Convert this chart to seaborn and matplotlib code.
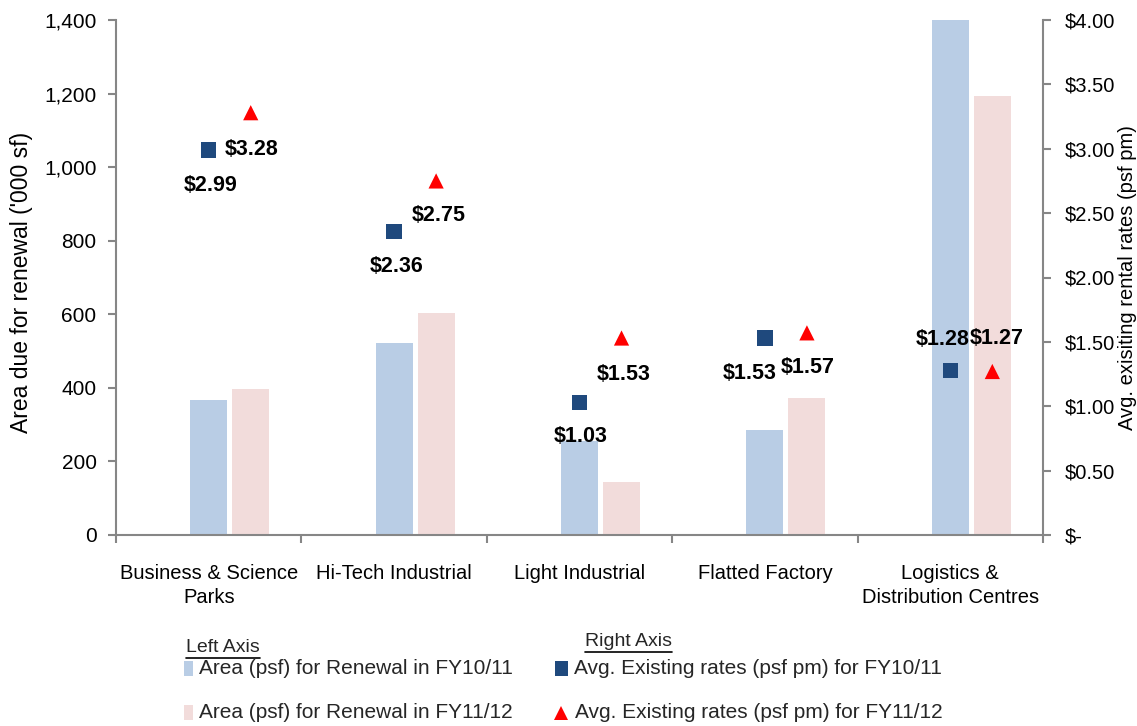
import numpy as np
import pandas as pd
import matplotlib
matplotlib.use('Agg')
import matplotlib.pyplot as plt
import seaborn as sns
from matplotlib.lines import Line2D
from matplotlib.patches import Rectangle
from matplotlib.ticker import FuncFormatter

# data
categories = ['Business & Science\nParks', 'Hi-Tech Industrial', 'Light Industrial',
              'Flatted Factory', 'Logistics &\nDistribution Centres']
area_fy1011 = [367, 522, 255, 285, 1400]
area_fy1112 = [397, 603, 145, 372, 1193]
rate_fy1011 = [2.99, 2.36, 1.03, 1.53, 1.28]
rate_fy1112 = [3.28, 2.75, 1.53, 1.57, 1.27]

bar_labels = ['Area (psf) for Renewal in FY10/11', 'Area (psf) for Renewal in FY11/12']
rate_labels = ['Avg. Existing rates (psf pm) for FY10/11', 'Avg. Existing rates (psf pm) for FY11/12']

# label offsets (pixels) of the $ labels relative to their markers
offsets_1011 = [(2, -35), (2, -35), (1, -34), (-15, -35), (-8, 31)]
offsets_1112 = [(1, -37), (3, -35), (2, -36), (1, -35), (4, 33)]

BLUE_BAR = '#B9CDE5'
PINK_BAR = '#F2DCDB'
NAVY = '#1F497D'
RED = '#FF0000'
GREY = '#868686'
W, H = 1137, 726

sns.set_theme(style='ticks')
plt.rcParams['font.family'] = ['Liberation Sans', 'DejaVu Sans']

area = pd.DataFrame({
    'category': categories * 2,
    'series': ['FY10/11'] * 5 + ['FY11/12'] * 5,
    'area': area_fy1011 + area_fy1112,
})

fig = plt.figure(figsize=(W / 100, H / 100), dpi=100)
ax = fig.add_axes([116 / W, 1 - 535 / H, (1043 - 116) / W, 515 / H])

# empty 'spacer' level keeps the FY10/11 bar on the category centre, like the original
group_width = 0.68
sns.barplot(data=area, x='category', y='area', hue='series', order=categories,
            hue_order=['spacer', 'FY10/11', 'FY11/12'],
            palette={'spacer': 'white', 'FY10/11': BLUE_BAR, 'FY11/12': PINK_BAR},
            width=group_width, gap=0.12, saturation=1, linewidth=0,
            errorbar=None, legend=False, ax=ax)

slot = group_width / 3
rates = pd.DataFrame({
    'x': np.r_[np.arange(5), np.arange(5) + slot],
    'rate': rate_fy1011 + rate_fy1112,
    'series': ['FY10/11'] * 5 + ['FY11/12'] * 5,
})
ax2 = ax.twinx()
sns.scatterplot(data=rates, x='x', y='rate', hue='series', style='series',
                markers={'FY10/11': 's', 'FY11/12': '^'},
                palette={'FY10/11': NAVY, 'FY11/12': RED},
                s=120, linewidth=0, legend=False, ax=ax2, zorder=5)

for (xv, yv, ser) in rates.itertuples(index=False):
    i = int(round(xv)) if ser == 'FY10/11' else int(round(xv - slot))
    off = offsets_1011[i] if ser == 'FY10/11' else offsets_1112[i]
    ax2.annotate(f'${yv:.2f}', (xv, yv), xytext=off, textcoords='offset pixels',
                 ha='center', va='center', fontsize=15.5, fontweight='bold', color='black')

# axes styling
ax.set_xlim(-0.5, 4.5)
ax.set_ylim(0, 1400)
ax.set_yticks(np.arange(0, 1401, 200))
ax.yaxis.set_major_formatter(FuncFormatter(lambda v, p: f'{v:,.0f}'))
ax.set_xticks(np.arange(-0.5, 5.0, 1.0), [''] * 6)
ax.set_xticks(np.arange(5), categories, minor=True)
ax.tick_params(axis='x', which='minor', length=0, pad=21, labelsize=14.5, labelcolor='black')
for lab in ax.get_xticklabels(minor=True):
    lab.set_linespacing(1.35)
ax.tick_params(axis='x', which='major', length=6, width=1.5, color=GREY)
ax.tick_params(axis='y', length=6, width=1.5, color=GREY, labelsize=15, pad=8, labelcolor='black')
ax.set_xlabel('')
ax.set_ylabel("Area due for renewal ('000 sf)", fontsize=16.5, color='black')
ax.yaxis.set_label_coords(-0.09, 0.49)

ax2.set_ylim(0, 4)
ax2.set_yticks(np.arange(0, 4.01, 0.5))
ax2.yaxis.set_major_formatter(FuncFormatter(lambda v, p: '$-' if v == 0 else f'${v:.2f}'))
ax2.tick_params(axis='y', length=6, width=1.5, color=GREY, labelsize=14.5, pad=10, labelcolor='black')
ax2.set_xlabel('')
ax2.set_ylabel('Avg. exisiting rental rates (psf pm)', fontsize=14.5, color='black')
ax2.yaxis.set_label_coords(1.0805, 0.5)
ax2.set_xlim(-0.5, 4.5)

for a in (ax, ax2):
    for sp in a.spines.values():
        sp.set_color(GREY)
        sp.set_linewidth(1.5)
    a.spines['top'].set_visible(False)
ax.spines['right'].set_visible(False)
ax2.spines['left'].set_visible(False)
ax2.spines['bottom'].set_visible(False)

# legend drawn below the plot, in figure pixels
def fx(x):
    return x / W


def fy(y):
    return 1 - y / H


renderer = fig.canvas.get_renderer()
for title, x, y in [('Left Axis', 186, 647), ('Right Axis', 585, 641)]:
    t = fig.text(fx(x), fy(y), title, fontsize=14, va='center', ha='left')
    bb = t.get_window_extent(renderer)
    fig.add_artist(Line2D([bb.x0 / W, bb.x1 / W], [fy(y + 11)] * 2, color='black', lw=1.2))

for label, color, y in [(bar_labels[0], BLUE_BAR, 668), (bar_labels[1], PINK_BAR, 712)]:
    fig.add_artist(Rectangle((fx(184), fy(y + 8)), 9 / W, 15 / H, color=color, lw=0))
    fig.text(fx(199), fy(y), label, fontsize=15, va='center', ha='left')

fig.add_artist(Rectangle((fx(555), fy(676)), 13 / W, 15 / H, color=NAVY, lw=0))
fig.text(fx(574), fy(668), rate_labels[0], fontsize=15, va='center', ha='left')
fig.add_artist(Line2D([fx(561)], [fy(713)], marker='^', ms=10, color=RED, lw=0, mew=0))
fig.text(fx(575), fy(712), rate_labels[1], fontsize=15, va='center', ha='left')

fig.savefig('out.png', dpi=100)
